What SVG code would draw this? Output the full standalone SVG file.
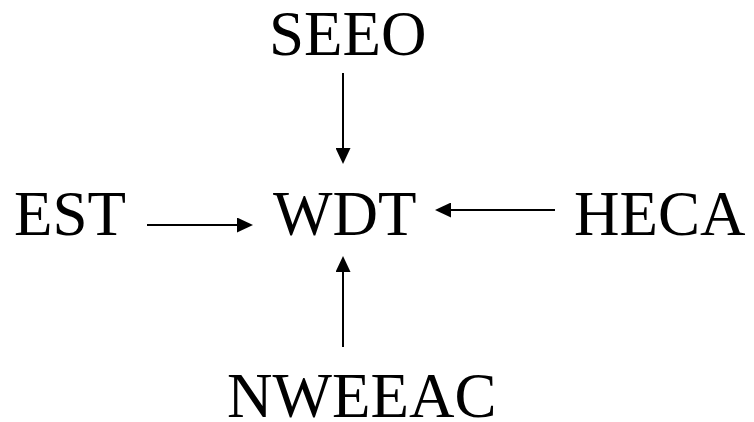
<svg xmlns="http://www.w3.org/2000/svg" width="754" height="422" viewBox="0 0 754 422">
<style>
text{font-family:"Liberation Serif","Times New Roman",serif;font-size:63px;fill:#000}
.c line{stroke:#000;stroke-width:2}
</style>
<defs>
<marker id="ah" viewBox="0 0 16 15" refX="0" refY="7.5" markerWidth="16" markerHeight="15" markerUnits="userSpaceOnUse" orient="auto">
<path d="M0,0 L16,7.5 L0,15 Z" fill="#000"/>
</marker>
</defs>
<rect width="754" height="422" fill="#fff"/>
<g id="SEEO"><text x="269" y="55">SEEO</text></g>
<g id="EST"><text x="14" y="235">EST</text></g>
<g id="WDT"><text x="273" y="235">WDT</text></g>
<g id="HECA"><text x="574" y="235">HECA</text></g>
<g id="NWEEAC"><text x="227" y="417">NWEEAC</text></g>
<g class="c" id="connectors">
<line x1="343" y1="73" x2="343" y2="148" marker-end="url(#ah)"/>
<line x1="147" y1="225" x2="237" y2="225" marker-end="url(#ah)"/>
<line x1="555" y1="210" x2="451" y2="210" marker-end="url(#ah)"/>
<line x1="343" y1="347" x2="343" y2="272" marker-end="url(#ah)"/>
</g>
</svg>
